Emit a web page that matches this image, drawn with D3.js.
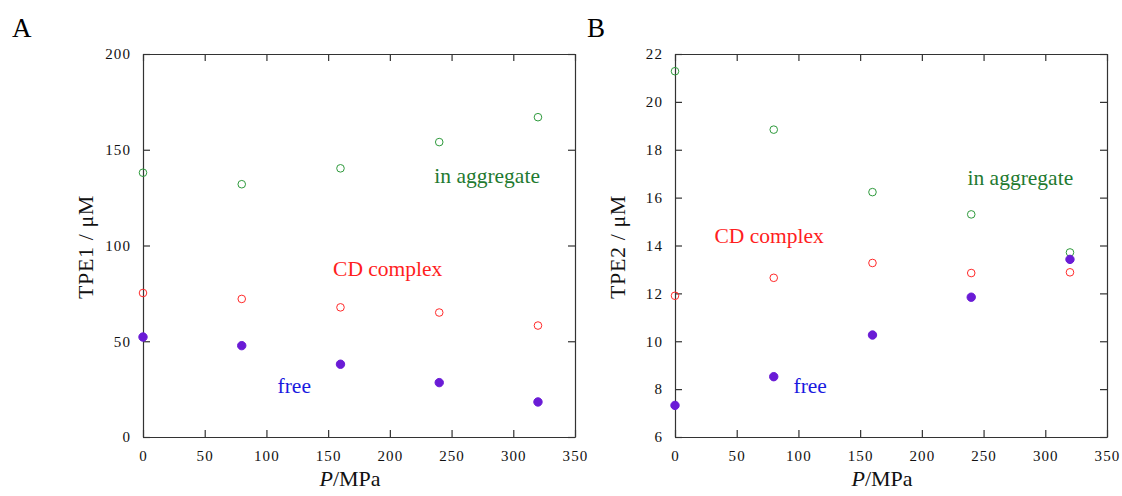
<!DOCTYPE html>
<html>
<head>
<meta charset="UTF-8">
<script src="https://cdn.jsdelivr.net/npm/d3@7"></script>
<style>
  body { margin: 0; background: #fff; }
  text { font-family: "Liberation Serif", "DejaVu Serif", serif; }
</style>
</head>
<body>
<svg id="chart" width="1122" height="496"></svg>
<script>
// pressure, MPa
var pressure = [0, 80, 160, 240, 320]

// panel A: TPE1 / uM
var tpe1Aggregate = [138, 132, 140.3, 154, 167]
var tpe1Complex = [75.2, 72.1, 67.7, 65, 58.2]
var tpe1Free = [52.2, 47.7, 38, 28.4, 18.3]

// panel B: TPE2 / uM
var tpe2Aggregate = [21.28, 18.84, 16.23, 15.3, 13.71]
var tpe2Complex = [11.9, 12.65, 13.27, 12.85, 12.88]
var tpe2Free = [7.32, 8.52, 10.26, 11.84, 13.42]

var xTicks = [0, 50, 100, 150, 200, 250, 300, 350]
var yTicksA = [0, 50, 100, 150, 200]
var yTicksB = [6, 8, 10, 12, 14, 16, 18, 20, 22]

// label anchors in data units [text, x, y]
var labelsA = [["in aggregate", 236, 132.5], ["CD complex", 154, 84], ["free", 109, 23]]
var labelsB = [["in aggregate", 237, 16.53], ["CD complex", 32, 14.1], ["free", 96, 7.85]]

var colAgg = "#2e9a3c", colCx = "#ff2a2a", colFree = "#6a1bd6"
var txtAgg = "#1f7a30", txtCx = "#ff1e1e", txtFree = "#1a1ae0"

var svg = d3.select("#chart")

function panel(opts) {
    var g = svg.append("g")
    var x = d3.scaleLinear().domain([0, 350]).range([opts.left, opts.left + 432])
    var y = d3.scaleLinear().domain(opts.ydom).range([437, 54])
    var tick = 7

    // frame with inward ticks on all sides
    g.append("g").attr("transform", "translate(0,437)")
        .call(d3.axisBottom(x).tickValues(xTicks).tickSizeInner(-tick).tickSizeOuter(0).tickPadding(13).tickFormat(d3.format("d")))
    g.append("g").attr("transform", "translate(0,54)")
        .call(d3.axisTop(x).tickValues(xTicks).tickSizeInner(-tick).tickSizeOuter(0).tickFormat(""))
    g.append("g").attr("transform", "translate(" + opts.left + ",0)")
        .call(d3.axisLeft(y).tickValues(opts.yticks).tickSizeInner(-tick).tickSizeOuter(0).tickPadding(12).tickFormat(d3.format("d")))
    g.append("g").attr("transform", "translate(" + (opts.left + 432) + ",0)")
        .call(d3.axisRight(y).tickValues(opts.yticks).tickSizeInner(-tick).tickSizeOuter(0).tickFormat(""))
    g.selectAll(".domain, .tick line").attr("stroke", "#333").attr("stroke-width", 1.2)
    g.selectAll(".tick text").attr("font-family", "Liberation Serif").attr("font-size", 15)
        .attr("letter-spacing", 1.1).attr("fill", "#111")

    // points
    var series = [
        [opts.agg, colAgg, false],
        [opts.cx, colCx, false],
        [opts.free, colFree, true]
    ]
    series.forEach(function (s) {
        g.append("g").selectAll("circle").data(s[0]).join("circle")
            .attr("cx", (d, i) => x(pressure[i]))
            .attr("cy", d => y(d))
            .attr("r", s[2] ? 4.2 : 3.8)
            .attr("fill", s[2] ? s[1] : "none")
            .attr("stroke", s[1])
            .attr("stroke-width", 1)
    })

    // series labels
    var cols = [txtAgg, txtCx, txtFree]
    opts.labels.forEach(function (l, i) {
        g.append("text").attr("x", x(l[1])).attr("y", y(l[2]))
            .attr("font-size", 21.5).attr("fill", cols[i]).text(l[0])
    })

    // axis titles
    var xt = g.append("text").attr("x", opts.left + 207).attr("y", 486)
        .attr("text-anchor", "middle").attr("font-size", 22).attr("fill", "#111")
    xt.append("tspan").attr("font-style", "italic").text("P")
    xt.append("tspan").text("/MPa")

    g.append("text").attr("transform", "translate(" + (opts.left - 50) + ",247) rotate(-90)")
        .attr("text-anchor", "middle").attr("font-size", 22).attr("letter-spacing", 0.6)
        .attr("fill", "#111").text(opts.ytitle)

    g.append("text").attr("x", opts.tagX).attr("y", 37)
        .attr("font-size", 27).attr("fill", "#000").text(opts.tag)
}

panel({ left: 143, ydom: [0, 200], yticks: yTicksA, agg: tpe1Aggregate, cx: tpe1Complex, free: tpe1Free, labels: labelsA, ytitle: "TPE1 / μM", tag: "A", tagX: 12 })
panel({ left: 675, ydom: [6, 22], yticks: yTicksB, agg: tpe2Aggregate, cx: tpe2Complex, free: tpe2Free, labels: labelsB, ytitle: "TPE2 / μM", tag: "B", tagX: 587 })
</script>
</body>
</html>
